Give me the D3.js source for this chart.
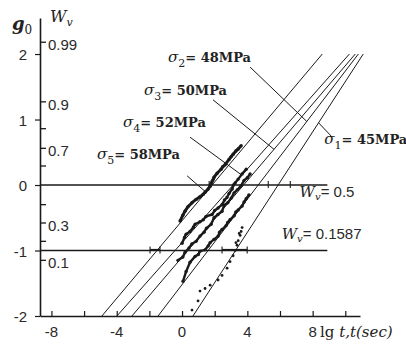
<!DOCTYPE html>
<html>
<head>
<meta charset="utf-8">
<script src="https://cdn.jsdelivr.net/npm/d3@7"></script>
<style>
  body { margin: 0; background: #fff; }
  svg { display: block; }
  .tick-label { font-family: "Liberation Sans", Arial, sans-serif; font-size: 15px; fill: #2a2a2a; }
  .serif { font-family: "DejaVu Serif", "Liberation Serif", serif; fill: #222; }
</style>
</head>
<body>
<svg id="chart" width="406" height="345"></svg>
<script>
// ---- data ----
const xTicks = [-8, -6, -4, -2, 0, 2, 4, 6, 8, 10];
const xTickLabels = [-8, -4, 0, 4, 8];
const gTicks = [-2, -1, 0, 1, 2];

// W_v probability ticks and where they sit on the g0 scale
const wvLabels = ["0.99", "0.9", "0.8", "0.7", "0.6", "0.4", "0.3", "0.2", "0.1"];
const wvPos = [2.18, 1.27, 0.86, 0.56, 0.29, -0.30, -0.58, -0.86, -1.15];
const wvShown = ["0.99", "0.9", "0.7", "0.3", "0.1"];

// fitted straight lines: lg t at g0 = -2 and g0 = 2
const stressNames = ["σ1", "σ2", "σ3", "σ4", "σ5"];
const stressSub = ["1", "2", "3", "4", "5"];
const stressMPa = [45, 48, 50, 52, 58];
const lineStart = [0.67, -1.47, -3.07, -3.99, -4.91];
const lineEnd = [11.10, 10.80, 10.61, 10.25, 8.59];

// measured points [lg t, g0]
const s1Points = [[0.61,-1.91],[0.98,-1.77],[1.10,-1.62],[1.41,-1.58],[1.72,-1.53],[2.21,-1.45],[2.45,-1.38],[2.76,-1.27],[2.94,-1.17],[3.13,-1.08],[3.25,-1.00],[3.37,-0.92],[3.30,-0.88],[3.44,-0.85],[3.56,-0.77],[3.50,-0.74],[3.62,-0.71],[3.68,-0.65]];
const s2Points = [[0.06,-1.47],[0.25,-1.32],[0.49,-1.18],[0.80,-1.09],[1.00,-1.06],[1.10,-1.01],[1.41,-0.99],[1.60,-0.93],[1.72,-0.88],[1.96,-0.83],[2.21,-0.78],[2.30,-0.72],[2.45,-0.68],[2.70,-0.62],[2.80,-0.57],[2.94,-0.53],[3.19,-0.47],[3.30,-0.41],[3.44,-0.38],[3.68,-0.32],[3.80,-0.26],[3.93,-0.21],[4.10,-0.15]];
const s3Points = [[-0.25,-1.15],[0.05,-1.10],[0.18,-1.03],[0.43,-0.96],[0.60,-0.90],[0.86,-0.86],[1.10,-0.78],[1.35,-0.72],[1.50,-0.66],[1.78,-0.60],[1.96,-0.50],[2.20,-0.45],[2.45,-0.40],[2.58,-0.31],[2.80,-0.27],[3.01,-0.20],[3.19,-0.12],[3.40,-0.07],[3.62,-0.01],[3.80,0.07],[4.00,0.11],[4.17,0.17]];
const s4Points = [[0.00,-0.89],[0.15,-0.80],[0.25,-0.75],[0.49,-0.71],[0.70,-0.64],[0.80,-0.60],[1.10,-0.56],[1.30,-0.53],[1.47,-0.48],[1.84,-0.45],[2.00,-0.39],[2.21,-0.35],[2.45,-0.30],[2.60,-0.23],[2.75,-0.19],[2.88,-0.13],[3.07,-0.06],[3.15,0.00],[3.25,0.03],[3.44,0.09],[3.68,0.17],[3.93,0.24]];
const s5Points = [[-0.12,-0.55],[0.05,-0.46],[0.18,-0.40],[0.37,-0.33],[0.61,-0.27],[0.86,-0.22],[1.10,-0.18],[1.30,-0.14],[1.41,-0.11],[1.60,-0.06],[1.72,-0.02],[1.78,0.02],[1.85,0.06],[1.92,0.09],[1.96,0.12],[2.15,0.18],[2.39,0.24],[2.50,0.28],[2.64,0.31],[2.88,0.39],[3.00,0.43],[3.13,0.47],[3.30,0.52],[3.44,0.55],[3.62,0.60]];

// label anchors [lg t, g0] and the g0 where each leader meets its line
const labelPos = [[8.71, 0.62], [-0.86, 1.88], [-2.33, 1.38], [-3.62, 0.88], [-5.21, 0.39]];
const leaderFrom = [[9.2, 0.73], [4.17, 1.80], [1.90, 1.30], [0.49, 0.73], [0.31, 0.14]];
const leaderToG = [0.95, 0.97, 0.545, 0.15, -0.11];

// reference levels
const levelG = [0, -1];
const levelText = ["0.5", "0.1587"];
const levelLabelPos = [[7.2, -0.19], [6.1, -0.82]];
const levelMarks = [[1.66, 5.28, 6.63], [-1.96, -1.35, 2.45, 3.99]];
const levelBands = [[], [[-1.96, -1.35], [2.45, 3.99]]];

// ---- drawing ----
const svg = d3.select("#chart");
const x = d3.scaleLinear().domain([-8.7, 10.9]).range([40, 360]);
const y = d3.scaleLinear().domain([-2, 2.55]).range([316, 18]);
const ink = "#1a1a1a";

// axes
const xAxis = svg.append("g").attr("transform", `translate(0,${y(-2)})`)
  .call(d3.axisBottom(x).tickValues(xTicks).tickSizeInner(-5).tickSizeOuter(0).tickFormat(""));
xAxis.select(".domain").attr("stroke", ink).attr("stroke-width", 1.6);
xAxis.selectAll(".tick line").attr("stroke", ink).attr("stroke-width", 1.2);
svg.append("g").selectAll("text").data(xTickLabels).join("text")
  .attr("class", "tick-label").attr("x", d => x(d)).attr("y", 337)
  .attr("text-anchor", "middle").text(d => d);

const yAxis = svg.append("g").attr("transform", `translate(${x(-8.7)},0)`)
  .call(d3.axisLeft(y).tickValues(gTicks).tickSizeInner(5).tickSizeOuter(0).tickFormat(""));
yAxis.select(".domain").attr("stroke", ink).attr("stroke-width", 1.6);
yAxis.selectAll(".tick line").attr("stroke", ink).attr("stroke-width", 1.2);
svg.append("g").selectAll("text").data(gTicks).join("text")
  .attr("class", "tick-label").attr("x", 27).attr("y", d => y(d) + 6)
  .attr("text-anchor", "end").text(d => d);

// W_v ticks on the inner side
const wv = svg.append("g");
wv.selectAll("line").data(wvPos).join("line")
  .attr("x1", x(-8.7)).attr("x2", x(-8.7) + 6)
  .attr("y1", d => y(d)).attr("y2", d => y(d))
  .attr("stroke", ink).attr("stroke-width", 1.3);
wv.selectAll("text").data(wvLabels.map((l, i) => [l, wvPos[i]]).filter(d => wvShown.includes(d[0]))).join("text")
  .attr("class", "tick-label").attr("x", x(-8.7) + 8).attr("y", d => y(d[1]) + 8)
  .text(d => d[0]);

// axis titles
const gTitle = svg.append("text").attr("class", "serif").attr("x", 12).attr("y", 30)
  .attr("font-size", 18).attr("font-style", "italic").attr("font-weight", "bold");
gTitle.append("tspan").text("g");
gTitle.append("tspan").attr("font-size", 12).attr("font-style", "normal").attr("font-weight", "normal").attr("dy", 4).text("0");
const wTitle = svg.append("text").attr("class", "serif").attr("x", 50).attr("y", 22)
  .attr("font-size", 16).attr("font-style", "italic");
wTitle.append("tspan").text("W");
wTitle.append("tspan").attr("font-size", 11).attr("dy", 4).text("v");

const xTitle = svg.append("text").attr("x", 320).attr("y", 337).attr("font-size", 15);
xTitle.append("tspan").attr("class", "serif").text("lg ");
xTitle.append("tspan").attr("class", "serif").attr("font-style", "italic").text("t,t(sec)");

// reference levels
svg.append("g").selectAll("line").data(levelG).join("line")
  .attr("x1", x(-8.7)).attr("x2", x(8.9))
  .attr("y1", d => y(d)).attr("y2", d => y(d))
  .attr("stroke", ink).attr("stroke-width", 1.4);
levelG.forEach((g, i) => {
  svg.append("g").selectAll("line").data(levelMarks[i]).join("line")
    .attr("x1", d => x(d)).attr("x2", d => x(d))
    .attr("y1", y(g) - 4).attr("y2", y(g) + 3)
    .attr("stroke", ink).attr("stroke-width", 1.1);
  svg.append("g").selectAll("line").data(levelBands[i]).join("line")
    .attr("x1", d => x(d[0])).attr("x2", d => x(d[1]))
    .attr("y1", y(g) - 1).attr("y2", y(g) - 1)
    .attr("stroke", ink).attr("stroke-width", 1.2);
  const t = svg.append("text").attr("x", x(levelLabelPos[i][0])).attr("y", y(levelLabelPos[i][1]))
    .attr("font-size", 15).attr("fill", "#222");
  t.append("tspan").attr("class", "serif").attr("font-style", "italic").text("W");
  t.append("tspan").attr("class", "serif").attr("font-style", "italic").attr("font-size", 10).attr("dy", 3).text("v");
  t.append("tspan").attr("class", "tick-label").attr("dy", -3).text("= " + levelText[i]);
});

// fitted lines
const lines = stressNames.map((n, i) => ({ t0: lineStart[i], t1: lineEnd[i] }));
svg.append("g").selectAll("line").data(lines).join("line")
  .attr("x1", d => x(d.t0)).attr("y1", y(-2))
  .attr("x2", d => x(d.t1)).attr("y2", y(2))
  .attr("stroke", ink).attr("stroke-width", 1);

// measured data
const series = [s1Points, s2Points, s3Points, s4Points, s5Points];
const path = d3.line().x(d => x(d[0])).y(d => y(d[1])).curve(d3.curveLinear);
series.forEach((pts, i) => {
  if (i > 0) {
    svg.append("path").attr("d", path(pts)).attr("fill", "none")
      .attr("stroke", ink).attr("stroke-width", i === 4 ? 3 : 2.4)
      .attr("stroke-linejoin", "round");
  }
  svg.append("g").selectAll("circle").data(pts).join("circle")
    .attr("cx", d => x(d[0])).attr("cy", d => y(d[1]))
    .attr("r", i > 0 ? 1.7 : 1.4).attr("fill", ink);
});

// leaders and labels
const tAt = (i, g) => lineStart[i] + (lineEnd[i] - lineStart[i]) * (g + 2) / 4;
stressNames.forEach((n, i) => {
  svg.append("line")
    .attr("x1", x(leaderFrom[i][0])).attr("y1", y(leaderFrom[i][1]))
    .attr("x2", x(tAt(i, leaderToG[i]))).attr("y2", y(leaderToG[i]))
    .attr("stroke", ink).attr("stroke-width", 1);
  const t = svg.append("text").attr("class", "serif").attr("font-size", 13)
    .attr("x", x(labelPos[i][0])).attr("y", y(labelPos[i][1]));
  t.append("tspan").attr("font-style", "italic").attr("font-size", 15).text("σ");
  t.append("tspan").attr("font-size", 11).attr("dy", 5).text(stressSub[i]);
  t.append("tspan").attr("dy", -5).attr("font-weight", "bold").text("= " + stressMPa[i] + "MPa");
});
</script>
</body>
</html>
